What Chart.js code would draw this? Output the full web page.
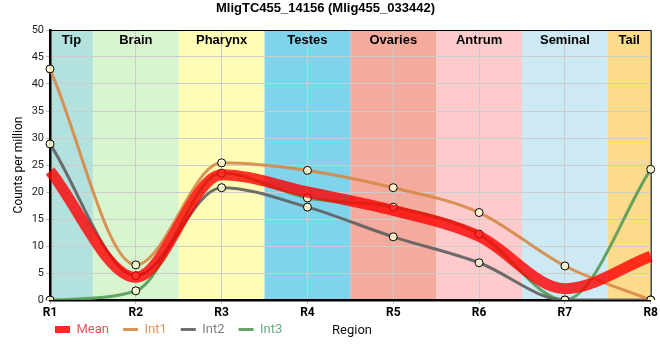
<!DOCTYPE html>
<html><head><meta charset="utf-8">
<script src="https://cdn.jsdelivr.net/npm/chart.js@4/dist/chart.umd.min.js"></script>
<style>html,body{margin:0;padding:0;background:#fff}#wrap{width:660px;height:360px}</style>
</head><body><div id="wrap"><canvas id="c" width="660" height="360"></canvas></div>
<script>
const labels = ['R1','R2','R3','R4','R5','R6','R7','R8'];
const regionNames = ['Tip','Brain','Pharynx','Testes','Ovaries','Antrum','Seminal','Tail'];
const regionColors = ['#b3e2de','#d8f5d0','#fefdb6','#7fd3ea','#f4aa9c','#fdcbcb','#cdeaf4','#fddb8c'];
const meanValues = [23.9, 4.2, 23.2, 20.0, 16.6, 11.8, 2.1, 8.1];
const int1Values = [42.8, 6.5, 25.4, 24.0, 20.8, 16.2, 6.3, 0];
const int2Values = [28.9, 4.5, 20.8, 17.2, 11.7, 6.9, 0, 0];
const int3Values = [0, 1.7, 23.5, 18.9, 17.2, 12.2, 0, 24.2];
const yTicks = [0,5,10,15,20,25,30,35,40,45,50];
const titleText = 'MligTC455_14156 (Mlig455_033442)';
const yTitle = 'Counts per million';
const xTitle = 'Region';

const SANS = "'Liberation Sans', Arial, sans-serif";
const ROB = "Roboto, 'Liberation Sans', sans-serif";
const pointBg = 'rgba(255,255,215,0.85)';

const bandsPlugin = {
  id: 'bands',
  beforeDraw(chart) {
    const {ctx, chartArea: a, scales: {x}} = chart;
    ctx.save();
    regionNames.forEach((n, i) => {
      const l = Math.max(a.left, x.getPixelForValue(i - 0.5));
      const r = Math.min(a.right, x.getPixelForValue(i + 0.5));
      ctx.fillStyle = regionColors[i];
      ctx.fillRect(l, a.top, r - l, a.bottom - a.top);
    });
    ctx.restore();
  },
  beforeDatasetsDraw(chart) {
    const {ctx, chartArea: a} = chart;
    ctx.save();
    ctx.strokeStyle = '#000';
    ctx.lineWidth = 1;
    ctx.beginPath();
    ctx.moveTo(a.left, a.top + 0.5);
    ctx.lineTo(a.right + 0.5, a.top + 0.5);
    ctx.lineTo(a.right + 0.5, a.bottom);
    ctx.stroke();
    ctx.restore();
  },
  afterLayout(chart) {
    const lg = chart.legend;
    if (lg) {
      const h = lg.bottom - lg.top;
      lg.left = 41;
      lg.top = 309;
      lg.bottom = lg.top + h;
    }
  },
  afterDraw(chart) {
    const {ctx, chartArea: a, scales: {x}} = chart;
    ctx.save();
    ctx.fillStyle = '#000';
    ctx.font = 'bold 13px ' + SANS;
    ctx.textAlign = 'center';
    ctx.textBaseline = 'middle';
    regionNames.forEach((n, i) => {
      const l = Math.max(a.left, x.getPixelForValue(i - 0.5));
      const r = Math.min(a.right, x.getPixelForValue(i + 0.5));
      ctx.fillText(n, (l + r) / 2, a.top + 10);
    });
    ctx.font = '13px ' + ROB;
    ctx.fillStyle = '#111';
    ctx.fillText(xTitle, 352, 331);
    ctx.restore();
  }
};

const intDs = (label, data, color) => ({
  label, data,
  borderColor: color,
  borderWidth: 3,
  backgroundColor: pointBg,
  pointRadius: 4,
  pointBorderColor: '#000',
  pointBorderWidth: 1,
  pointBackgroundColor: pointBg,
  cubicInterpolationMode: 'monotone',
  fill: false
});

const legendColors = ['#f0505a', '#e0955a', '#80808c', '#6aae80'];

new Chart(document.getElementById('c'), {
  type: 'line',
  data: {
    labels,
    datasets: [
      {
        label: 'Mean', data: meanValues,
        borderColor: 'rgba(255,0,0,0.8)',
        backgroundColor: 'rgba(255,0,0,0.8)',
        borderWidth: 11, pointRadius: 0,
        cubicInterpolationMode: 'monotone', fill: false
      },
      intDs('Int1', int1Values, 'rgba(215,135,70,0.9)'),
      intDs('Int2', int2Values, 'rgba(95,95,95,0.9)'),
      intDs('Int3', int3Values, 'rgba(85,155,85,0.9)')
    ]
  },
  options: {
    responsive: false,
    animation: false,
    layout: {padding: {left: 0, right: 9, top: 0, bottom: 3}},
    plugins: {
      title: {
        display: true, text: titleText, color: '#000',
        font: {family: SANS, size: 13, weight: 'bold'},
        padding: {top: 1, bottom: 13.4}
      },
      legend: {
        display: true, position: 'bottom', align: 'start',
        labels: {
          font: {family: ROB, size: 13},
          padding: 14,
          usePointStyle: true,
          pointStyleWidth: 15,
          boxHeight: 7,
          generateLabels(chart) {
            return chart.data.datasets.map((d, i) => ({
              text: d.label,
              datasetIndex: i,
              fillStyle: i === 0 ? 'rgba(255,0,0,0.85)' : d.borderColor,
              strokeStyle: i === 0 ? 'rgba(255,0,0,0.85)' : d.borderColor,
              lineWidth: i === 0 ? 0 : 3,
              pointStyle: i === 0 ? 'rect' : 'line',
              fontColor: legendColors[i],
              hidden: false
            }));
          }
        }
      },
      tooltip: {enabled: false}
    },
    scales: {
      x: {
        offset: false,
        grid: {color: '#cccccc', lineWidth: 1, tickLength: 4, tickColor: '#bbbbbb'},
        border: {color: '#000', width: 2.5},
        ticks: {color: '#000', font: {family: ROB, size: 12, weight: 'bold'}, padding: 2, maxRotation: 0},
        afterFit(s) { s.height = 20; }
      },
      y: {
        min: 0, max: 50,
        afterBuildTicks(s) { s.ticks = yTicks.map(v => ({value: v})); },
        grid: {color: '#cccccc', lineWidth: 1, tickLength: 4, tickColor: '#bbbbbb'},
        border: {color: '#000', width: 2.5},
        ticks: {color: '#222', font: {family: ROB, size: 11}, padding: 2},
        title: {display: true, text: yTitle, color: '#000', font: {family: ROB, size: 12}, padding: {top: 12, bottom: 0}},
        afterFit(s) { s.width = 50; }
      }
    }
  },
  plugins: [bandsPlugin]
});
</script>
</body></html>
